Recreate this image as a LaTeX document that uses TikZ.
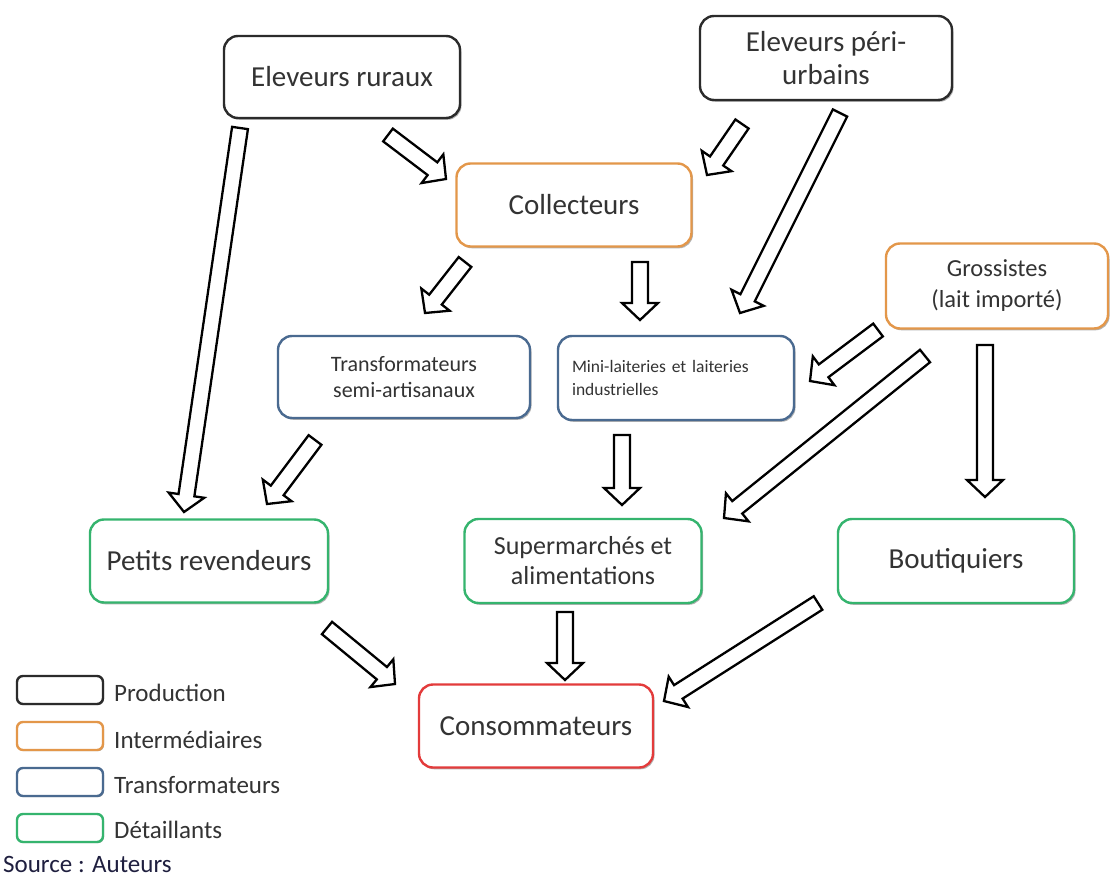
\documentclass[tikz,border=0pt]{standalone}
\usepackage{fontspec}
\setmainfont{Carlito}
\usetikzlibrary{calc,shadows}
\definecolor{cprod}{HTML}{2B2B2B}
\definecolor{cinter}{HTML}{E3974A}
\definecolor{ctrans}{HTML}{4A6A90}
\definecolor{cdet}{HTML}{35B46E}
\definecolor{ccons}{HTML}{E33B3B}
\definecolor{ctext}{HTML}{333333}
\definecolor{csrc}{HTML}{1F1F3F}
\tikzset{
  box/.style={draw, line width=2.4pt, rounded corners=14pt, fill=white, align=center, text=ctext,
    inner sep=0pt, drop shadow={shadow xshift=1.5pt, shadow yshift=-1.8pt, opacity=0.3, fill=black}},
  big/.style={font=\fontsize{29}{33}\selectfont},
  prod/.style={box, draw=cprod},
  inter/.style={box, draw=cinter},
  trans/.style={box, draw=ctrans},
  det/.style={box, draw=cdet},
  cons/.style={box, draw=ccons},
  legbox/.style={draw, line width=2.4pt, rounded corners=6pt, fill=white, minimum width=86pt, minimum height=28pt, inner sep=0pt,
    drop shadow={shadow xshift=1pt, shadow yshift=-1.2pt, opacity=0.3, fill=black}},
  legtext/.style={anchor=west, text=ctext, font=\fontsize{25}{29}\selectfont, inner sep=0pt},
  blockarrow/.style={draw=black, line width=2.3pt, fill=white, line join=miter}
}
\newcommand{\blockarr}[2]{%
  \path ($(#2)!17pt!(#1)$) coordinate (tmpH);
  \draw[blockarrow] ($(#1)!8pt!90:(#2)$) -- ($(tmpH)!8pt!90:(#2)$) -- ($(tmpH)!18pt!90:(#2)$) -- (#2)
    -- ($(tmpH)!18pt!-90:(#2)$) -- ($(tmpH)!8pt!-90:(#2)$) -- ($(#1)!8pt!-90:(#2)$) -- cycle;}
\begin{document}
\begin{tikzpicture}[x=1pt,y=-1pt]
\useasboundingbox[fill=white] (0,0) rectangle (1110,877);

% nodes
\node[prod, big, minimum width=236pt, minimum height=82pt] (er) at (342,77) {Eleveurs ruraux};
\node[prod, big, minimum width=252pt, minimum height=84pt] (ep) at (826,58) {Eleveurs péri-\\urbains};
\node[inter, big, minimum width=235pt, minimum height=83pt] (col) at (574,205) {Collecteurs};
\node[inter, font=\fontsize{24.5}{31}\selectfont, minimum width=222pt, minimum height=85pt] (gro) at (997,286) {Grossistes\\(lait importé)};
\node[trans, font=\fontsize{22}{26}\selectfont, minimum width=252pt, minimum height=82pt] (tsa) at (404,377) {Transformateurs\\semi-artisanaux};
\node[trans, font=\fontsize{17.5}{23}\selectfont, minimum width=236pt, minimum height=84pt, text width=208pt, align=left] (mini) at (676,378) {Mini-laiteries et laiteries\\industrielles\\[4pt]};
\node[det, big, minimum width=238pt, minimum height=83pt] (pr) at (209,561) {Petits revendeurs};
\node[det, font=\fontsize{26}{30}\selectfont, minimum width=237pt, minimum height=84pt] (sup) at (583,561) {Supermarchés et\\alimentations};
\node[det, big, minimum width=236pt, minimum height=84pt] (bou) at (956,561) {Boutiquiers};
\node[cons, big, minimum width=234pt, minimum height=83pt] (con) at (536,726) {Consommateurs};

% arrows
\coordinate (a1s) at (240,128);  \coordinate (a1e) at (184,512);
\coordinate (a2s) at (388,135);  \coordinate (a2e) at (446,179);
\coordinate (a3s) at (742,124);  \coordinate (a3e) at (707,175);
\coordinate (a4s) at (840,113);  \coordinate (a4e) at (740,313);
\coordinate (a5s) at (465,262);  \coordinate (a5e) at (425,313);
\coordinate (a6s) at (640,262);  \coordinate (a6e) at (640,320);
\coordinate (a7s) at (878,330);  \coordinate (a7e) at (810,381);
\coordinate (a8s) at (925,356);  \coordinate (a8e) at (724,518);
\coordinate (a9s) at (985,345);  \coordinate (a9e) at (985,497);
\coordinate (a10s) at (315,440); \coordinate (a10e) at (267,504);
\coordinate (a11s) at (622,435); \coordinate (a11e) at (622,505);
\coordinate (a12s) at (327,628); \coordinate (a12e) at (395,684);
\coordinate (a13s) at (565,612); \coordinate (a13e) at (565,680);
\coordinate (a14s) at (818,603); \coordinate (a14e) at (664,701);
\blockarr{a1s}{a1e}
\blockarr{a2s}{a2e}
\blockarr{a3s}{a3e}
\blockarr{a4s}{a4e}
\blockarr{a5s}{a5e}
\blockarr{a6s}{a6e}
\blockarr{a7s}{a7e}
\blockarr{a8s}{a8e}
\blockarr{a9s}{a9e}
\blockarr{a10s}{a10e}
\blockarr{a11s}{a11e}
\blockarr{a12s}{a12e}
\blockarr{a13s}{a13e}
\blockarr{a14s}{a14e}

% legend
\node[legbox, draw=cprod] (l1) at (60,690) {};
\node[legbox, draw=cinter] (l2) at (60,736) {};
\node[legbox, draw=ctrans] (l3) at (60,782) {};
\node[legbox, draw=cdet] (l4) at (60,828) {};
\node[legtext] (t1) at (114,693) {Production};
\node[legtext] (t2) at (114,740) {Intermédiaires};
\node[legtext] (t3) at (114,785) {Transformateurs};
\node[legtext] (t4) at (114,830) {Détaillants};
\node[anchor=base west, inner sep=0pt, text=csrc, font=\fontsize{25}{29}\selectfont] (src) at (3,872) {Source : Auteurs};
\end{tikzpicture}
\end{document}
